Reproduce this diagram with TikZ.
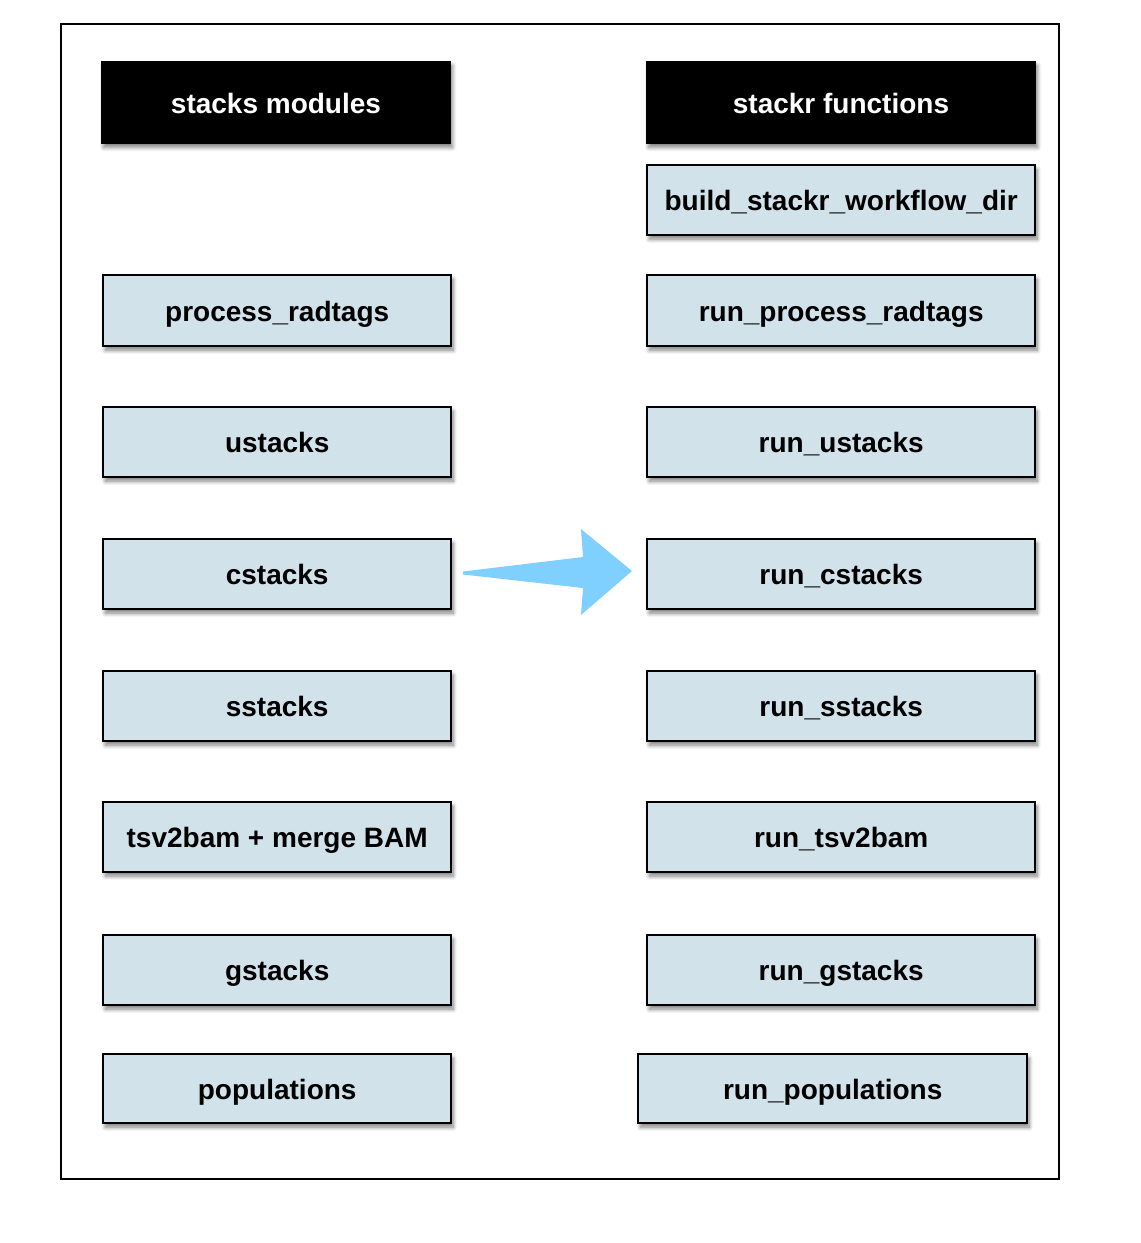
\documentclass[tikz,border=0pt]{standalone}
\usepackage{fontspec}
\setmainfont{Liberation Sans}
\usetikzlibrary{shadows,shadows.blur}
\definecolor{boxfill}{HTML}{D2E2EA}
\definecolor{arrowblue}{HTML}{80D0FF}
\tikzset{
  box/.style={draw=black, line width=2.4pt, fill=boxfill, font=\fontsize{28}{32}\selectfont\bfseries,
    text height=21.5pt, text depth=0pt,
    blur shadow={shadow xshift=2pt, shadow yshift=-4pt, shadow blur steps=8, shadow blur radius=4pt, shadow opacity=50}},
  head/.style={draw=black, line width=1pt, fill=black, text=white, font=\fontsize{28}{32}\selectfont\bfseries,
    text height=21.5pt, text depth=0pt,
    blur shadow={shadow xshift=2pt, shadow yshift=-4pt, shadow blur steps=8, shadow blur radius=4pt, shadow opacity=50}},
}
\begin{document}
\begin{tikzpicture}[x=1pt,y=-1pt]
\useasboundingbox (0,0) rectangle (1141,1243);
\draw[line width=2pt] (61,24) rectangle (1059,1179);
% headers
\node[head, minimum width=349pt, minimum height=82pt, anchor=north west] (hl) at (101,61) {stacks modules};
\node[head, minimum width=389pt, minimum height=82pt, anchor=north west] (hr) at (646,61) {stackr functions};
% left column
\node[box, minimum width=348pt, minimum height=71pt, anchor=north west] (l1) at (102,274) {process\_radtags};
\node[box, minimum width=348pt, minimum height=70pt, anchor=north west] (l2) at (102,406) {ustacks};
\node[box, minimum width=348pt, minimum height=70pt, anchor=north west] (l3) at (102,538) {cstacks};
\node[box, minimum width=348pt, minimum height=70pt, anchor=north west] (l4) at (102,670) {sstacks};
\node[box, minimum width=348pt, minimum height=70pt, anchor=north west] (l5) at (102,801) {tsv2bam + merge BAM};
\node[box, minimum width=348pt, minimum height=70pt, anchor=north west] (l6) at (102,934) {gstacks};
\node[box, minimum width=348pt, minimum height=69pt, anchor=north west] (l7) at (102,1053) {populations};
% right column
\node[box, minimum width=388pt, minimum height=70pt, anchor=north west] (r0) at (646,164) {build\_stackr\_workflow\_dir};
\node[box, minimum width=388pt, minimum height=71pt, anchor=north west] (r1) at (646,274) {run\_process\_radtags};
\node[box, minimum width=388pt, minimum height=70pt, anchor=north west] (r2) at (646,406) {run\_ustacks};
\node[box, minimum width=388pt, minimum height=70pt, anchor=north west] (r3) at (646,538) {run\_cstacks};
\node[box, minimum width=388pt, minimum height=70pt, anchor=north west] (r4) at (646,670) {run\_sstacks};
\node[box, minimum width=388pt, minimum height=70pt, anchor=north west] (r5) at (646,801) {run\_tsv2bam};
\node[box, minimum width=388pt, minimum height=70pt, anchor=north west] (r6) at (646,934) {run\_gstacks};
\node[box, minimum width=389pt, minimum height=69pt, anchor=north west] (r7) at (637,1053) {run\_populations};
% big arrow
\coordinate (tail) at (463,573);
\coordinate (tip) at (632,571);
\fill[arrowblue, line join=round] (tail) ++(0,-1.5) -- (583,557) -- (581,529) -- (tip) -- (581,615) -- (583,588) -- (463,574.5) -- cycle;
\end{tikzpicture}
\end{document}
